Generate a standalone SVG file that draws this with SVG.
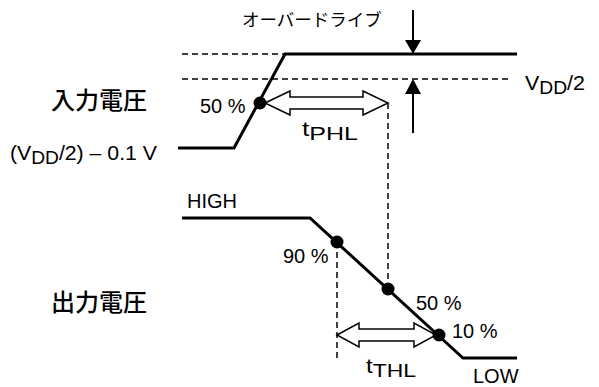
<svg xmlns="http://www.w3.org/2000/svg" width="599" height="387" viewBox="0 0 599 387">
<style>
.wave{fill:none;stroke:#000;stroke-width:3;stroke-linejoin:miter}
.dash{fill:none;stroke:#000;stroke-width:1.5;stroke-dasharray:6 4}
.dot{fill:#000}
.harrow{fill:#fff;stroke:#000;stroke-width:1.5;stroke-linejoin:miter}
.line{stroke:#000;stroke-width:2;fill:none}
.head{fill:#000}
.lbl{font-family:"Liberation Sans",Arial,sans-serif;font-size:20px;fill:#000}
.sub{font-size:18px}
.jp{font-family:"Noto Sans CJK JP",sans-serif;fill:#000}
</style>
<rect width="599" height="387" fill="#fff"/>
<g id="connectors">
  <line class="dash" x1="182" y1="54" x2="285" y2="54"/>
  <line class="dash" x1="182" y1="79" x2="512" y2="79"/>
  <line class="dash" x1="388" y1="103" x2="388" y2="289"/>
  <line class="dash" x1="337" y1="242" x2="337" y2="358"/>
  <line class="line" x1="413" y1="10" x2="413" y2="42"/>
  <polygon class="head" points="405,40 421,40 413,54"/>
  <line class="line" x1="413" y1="92" x2="413" y2="133"/>
  <polygon class="head" points="405,94 421,94 413,79"/>
</g>
<g id="input-wave">
  <polyline class="wave" points="178,148 234,148 285,54 517,54"/>
</g>
<g id="output-wave">
  <polyline class="wave" points="182,218 310,218 463,358 517,358"/>
</g>
<g id="tphl-arrow">
  <path class="harrow" d="M265,103 L290,91 L290,97 L363,97 L363,91 L388,103 L363,115 L363,109 L290,109 L290,115 Z"/>
</g>
<g id="tthl-arrow">
  <path class="harrow" d="M337,335 L359,323 L359,329 L414,329 L414,323 L436,335 L414,347 L414,341 L359,341 L359,347 Z"/>
</g>
<g id="dots">
  <circle class="dot" cx="260" cy="103" r="6.5"/>
  <circle class="dot" cx="337" cy="242" r="6.5"/>
  <circle class="dot" cx="388" cy="289" r="6.5"/>
  <circle class="dot" cx="439" cy="335" r="6.5"/>
</g>
<g id="labels">
  <text class="jp" x="242" y="26" font-size="17.5">オーバードライブ</text>
  <text class="jp" x="51" y="109" font-size="24" font-weight="500">入力電圧</text>
  <text class="jp" x="51" y="311" font-size="24" font-weight="500">出力電圧</text>
  <text class="lbl" x="525" y="90" textLength="60" lengthAdjust="spacingAndGlyphs">V<tspan class="sub" dy="4">DD</tspan><tspan dy="-4">/2</tspan></text>
  <text class="lbl" x="10" y="160" textLength="147" lengthAdjust="spacingAndGlyphs">(V<tspan class="sub" dy="4">DD</tspan><tspan dy="-4">/2) – 0.1 V</tspan></text>
  <text class="lbl" x="200" y="113">50 %</text>
  <text class="lbl" x="302" y="136" font-size="25" textLength="56" lengthAdjust="spacingAndGlyphs">t<tspan font-size="19" dy="4">PHL</tspan></text>
  <text class="lbl" x="366" y="373" font-size="25" textLength="50" lengthAdjust="spacingAndGlyphs">t<tspan font-size="19" dy="4">THL</tspan></text>
  <text class="lbl" x="187" y="208">HIGH</text>
  <text class="lbl" x="283" y="263">90 %</text>
  <text class="lbl" x="416" y="310">50 %</text>
  <text class="lbl" x="452" y="338">10 %</text>
  <text class="lbl" x="473" y="383">LOW</text>
</g>
</svg>
